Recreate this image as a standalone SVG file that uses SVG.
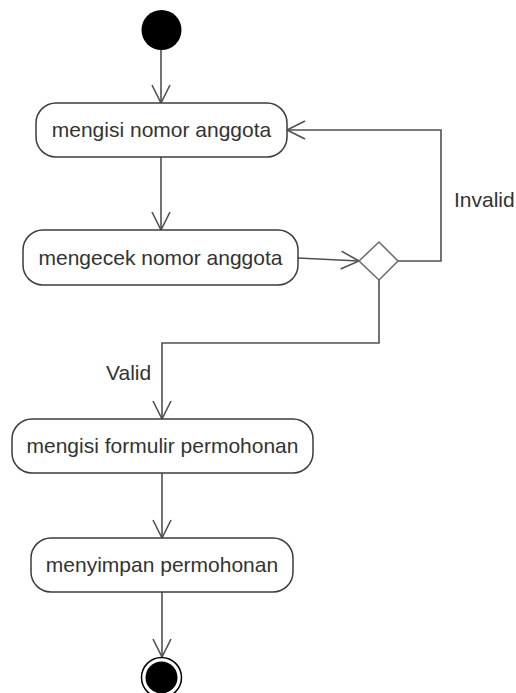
<svg xmlns="http://www.w3.org/2000/svg" width="516" height="693" viewBox="0 0 516 693">
  <style>
    .node rect { fill: #ffffff; stroke: #3c3c3c; stroke-width: 1.5; }
    .node text, .label { font-family: "Liberation Sans", Arial, sans-serif; font-size: 21px; fill: #333333; text-anchor: middle; }
    .label { text-anchor: start; }
    .edge { fill: none; stroke: #505050; stroke-width: 1.6; marker-end: url(#open-arrow); }
    .edge.plain { marker-end: none; }
    .diamond { fill: #ffffff; stroke: #6a6a6a; stroke-width: 1.5; }
  </style>
  <defs>
    <marker id="open-arrow" markerUnits="userSpaceOnUse" markerWidth="24" markerHeight="24" viewBox="-20 -12 24 24" refX="0" refY="0" orient="auto" overflow="visible">
      <path d="M-18,-9 L0,0 L-18,9" fill="none" stroke="#505050" stroke-width="1.6"/>
    </marker>
  </defs>
  <rect width="516" height="693" fill="#ffffff"/>

  <!-- connectors -->
  <g id="connectors">
    <path class="edge" d="M161,50 L161,103"/>
    <path class="edge" d="M161,157 L161,230"/>
    <path class="edge" d="M298,258 L359,261"/>
    <path class="edge" d="M398,261 L441,261 L441,130 L287,130"/>
    <path class="edge" d="M379,280 L379,343 L162,343 L162,419"/>
    <path class="edge" d="M162,473 L162,538"/>
    <path class="edge" d="M162,592 L162,657"/>
  </g>

  <!-- guard labels -->
  <text class="label" x="454" y="207">Invalid</text>
  <text class="label" x="106" y="380">Valid</text>

  <!-- initial state -->
  <g id="start">
    <circle cx="161.5" cy="30" r="20" fill="#000000"/>
  </g>

  <g id="isi-nomor" class="node">
    <rect x="36" y="103" width="251" height="54" rx="20" ry="20"/>
    <text x="161.5" y="137">mengisi nomor anggota</text>
  </g>

  <g id="cek-nomor" class="node">
    <rect x="23" y="230" width="275" height="55" rx="20" ry="20"/>
    <text x="160.5" y="265">mengecek nomor anggota</text>
  </g>

  <g id="decision">
    <polygon class="diamond" points="379,242 398,261 379,280 359,261"/>
  </g>

  <g id="isi-formulir" class="node">
    <rect x="12" y="419" width="301" height="54" rx="20" ry="20"/>
    <text x="162.5" y="453">mengisi formulir permohonan</text>
  </g>

  <g id="simpan" class="node">
    <rect x="31" y="538" width="262" height="54" rx="20" ry="20"/>
    <text x="162" y="572">menyimpan permohonan</text>
  </g>

  <!-- final state -->
  <g id="end">
    <circle cx="161.5" cy="677.5" r="20" fill="#ffffff" stroke="#000000" stroke-width="1.5"/>
    <circle cx="161.5" cy="677.5" r="16" fill="#000000"/>
  </g>
</svg>
